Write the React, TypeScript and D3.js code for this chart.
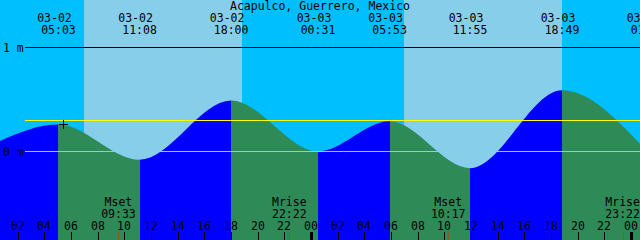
import React from "react";
import * as d3 from "d3";

const title = "Acapulco, Guerrero, Mexico";
const startStamp = "2024-03-02 00:40";
const spanHours = 48;

const eventDates = ["03-01", "03-02", "03-02", "03-02", "03-03", "03-03", "03-03", "03-03", "03-04"];
const eventTimes = ["23:40", "05:03", "11:08", "18:00", "00:31", "05:53", "11:55", "18:49", "01:16"];
const eventLevels = [0.04, 0.26, -0.08, 0.49, 0.0, 0.29, -0.16, 0.59, -0.01];

const sunriseStamps = ["03-02 06:58", "03-03 06:58"];
const sunsetStamps = ["03-02 18:49", "03-03 18:49"];

const moonLabels = ["Mset", "Mrise", "Mset", "Mrise"];
const moonStamps = ["03-02 09:33", "03-02 22:22", "03-03 10:17", "03-03 23:22"];

const levelTicks = [0, 1];
const levelTickLabels = ["0 m", "1 m"];
const meanLevel = 0.3;

const nowStamp = "03-02 05:23";
const nowLevel = 0.26;

const W = 640;
const H = 240;
const FONT = "DejaVu Sans Mono";
const FS = 11.5;

const parse = d3.timeParse("%Y-%m-%d %H:%M");
const p = (s: string) => parse("2024-" + s) as Date;

export default function App() {
  const t0 = parse(startStamp) as Date;
  const t1 = d3.timeHour.offset(t0, spanHours);
  const x = d3.scaleTime().domain([t0, t1]).range([0, W]);
  const y = d3.scaleLinear().domain([0, 1]).range([151.5, 47.5]);

  const events = eventTimes.map((t, i) => ({
    date: eventDates[i],
    time: t,
    when: p(eventDates[i] + " " + t),
    level: eventLevels[i],
  }));

  const area = d3
    .area<{ when: Date; level: number }>()
    .x((d) => x(d.when))
    .y0(H)
    .y1((d) => y(d.level))
    .curve(d3.curveMonotoneX);

  const hourTicks = d3.timeHour.every(2)!.range(t0, d3.timeMinute.offset(t1, 1));
  const fmtHour = d3.timeFormat("%H");

  const segs = events.slice(0, -1).map((e, i) => ({
    x0: x(e.when),
    x1: x(events[i + 1].when),
    rising: events[i + 1].level > e.level,
  }));

  const nx = x(p(nowStamp));
  const ny = y(nowLevel);

  return (
    <svg
      width={W}
      height={H}
      style={{ position: "absolute", left: 0, top: 0, display: "block" }}
      fontFamily={FONT}
      fontSize={FS}
    >
      <defs>
        <clipPath id="tideClip">
          <path d={area(events) || ""} />
        </clipPath>
      </defs>
      <rect x={0} y={0} width={W} height={H} fill="#00BFFF" />
      {sunriseStamps.map((s, i) => {
        const a = x(p(s));
        const b = x(p(sunsetStamps[i]));
        return <rect key={i} x={a} y={0} width={b - a} height={H} fill="#87CEEB" shapeRendering="crispEdges" />;
      })}
      <g clipPath="url(#tideClip)">
        {segs.map((s, i) => (
          <rect
            key={i}
            x={s.x0}
            y={0}
            width={s.x1 - s.x0}
            height={H}
            fill={s.rising ? "#0000FF" : "#2E8B57"}
            shapeRendering="crispEdges"
          />
        ))}
      </g>
      {levelTicks.map((v, i) => (
        <g key={i}>
          <line
            x1={25}
            x2={W}
            y1={y(v)}
            y2={y(v)}
            stroke={v === 0 ? "#87CEEB" : "#000"}
            strokeWidth={1}
            shapeRendering="crispEdges"
          />
          <text x={3} y={y(v) + 4}>
            {levelTickLabels[i]}
          </text>
        </g>
      ))}
      <line x1={25} x2={W} y1={y(meanLevel)} y2={y(meanLevel)} stroke="#FFFF00" strokeWidth={1.5} shapeRendering="crispEdges" />
      <g stroke="#000" strokeWidth={1} shapeRendering="crispEdges">
        <line x1={nx - 4} x2={nx + 5} y1={ny + 0.5} y2={ny + 0.5} />
        <line x1={nx + 0.5} x2={nx + 0.5} y1={ny - 4} y2={ny + 5} />
      </g>
      <text x={W / 2} y={10} textAnchor="middle">
        {title}
      </text>
      {events
        .filter((e) => x(e.when) >= 0)
        .map((e, i) => (
          <g key={i}>
            <text x={x(e.when) - 4} y={22} textAnchor="middle">
              {e.date}
            </text>
            <text x={x(e.when)} y={33.5} textAnchor="middle">
              {e.time}
            </text>
          </g>
        ))}
      {moonStamps.map((s, i) => {
        const mx = x(p(s));
        return (
          <g key={i}>
            <text x={mx} y={206} textAnchor="middle">
              {moonLabels[i]}
            </text>
            <text x={mx} y={218} textAnchor="middle">
              {s.slice(6)}
            </text>
            <line x1={Math.round(mx) + 0.5} x2={Math.round(mx) + 0.5} y1={232} y2={H} stroke="#8B5A1A" shapeRendering="crispEdges" />
          </g>
        );
      })}
      {hourTicks.map((t, i) => {
        const tx = Math.round(x(t));
        const midnight = t.getHours() === 0;
        return (
          <g key={i}>
            <text x={tx} y={229.5} textAnchor="middle">
              {fmtHour(t)}
            </text>
            <line
              x1={midnight ? tx : tx + 0.5}
              x2={midnight ? tx : tx + 0.5}
              y1={232}
              y2={H}
              stroke="#000"
              strokeWidth={midnight ? 3 : 1}
              shapeRendering="crispEdges"
            />
          </g>
        );
      })}
    </svg>
  );
}
